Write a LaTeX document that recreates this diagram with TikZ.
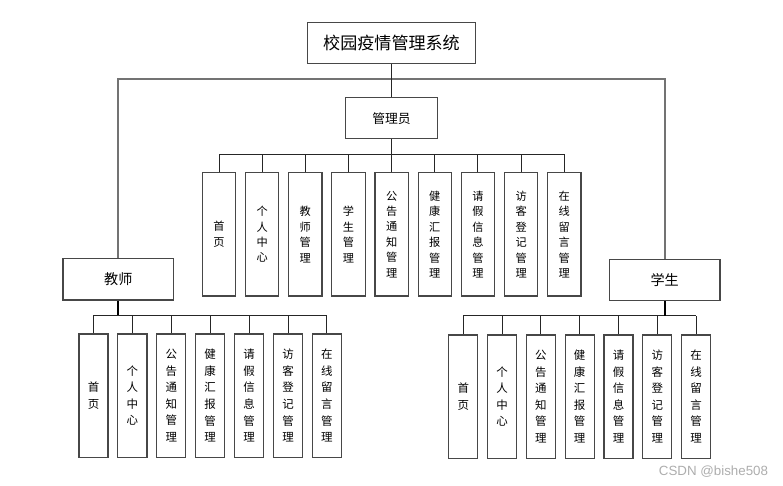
\documentclass[tikz,border=0pt]{standalone}
\usepackage{fontspec}
\setmainfont{Noto Sans CJK SC}
\newfontfamily\wmfont{Liberation Sans}
\begin{document}
\begin{tikzpicture}[x=0.75pt,y=-0.75pt,
  box/.style={draw=black!72,line width=0.9pt,fill=white,inner sep=0pt,align=center},
  rootbox/.style={box,minimum width=126pt,minimum height=30.8pt,font=\fontsize{12.8pt}{15pt}\selectfont},
  rolebox/.style={box,minimum width=83pt,minimum height=31.3pt,font=\fontsize{10.6pt}{13pt}\selectfont},
  adminbox/.style={box,minimum width=69.5pt,minimum height=30.8pt,font=\fontsize{9.6pt}{12pt}\selectfont},
  achild/.style={box,minimum width=25pt,minimum height=92.5pt,font=\fontsize{8.4pt}{11.6pt}\selectfont},
  tchild/.style={box,minimum width=21.8pt,minimum height=92.5pt,font=\fontsize{8.6pt}{12.4pt}\selectfont},
  link/.style={draw=black!85,line width=0.7pt},
  thicklink/.style={draw=black,line width=1.5pt},
  mainbus/.style={draw=black!55,line width=1.5pt}
]
\useasboundingbox (0,0) rectangle (783,486);

% top level
\node[rootbox] (root) at (391.5,42.8) {校园疫情管理系统};
\node[adminbox] (admin) at (391.5,118.3) {管理员};
\node[rolebox] (teacher) at (118.3,279.2) {教师};
\node[rolebox] (student) at (664.7,280) {学生};

\coordinate (mb) at (391.5,79);
\coordinate (ab) at (391.5,154.3);
\coordinate (tb) at (118.3,315);
\coordinate (sb) at (664.7,315.7);

% admin children
\foreach \i/\t in {0/{首\\页},1/{个\\人\\中\\心},2/{教\\师\\管\\理},3/{学\\生\\管\\理},4/{公\\告\\通\\知\\管\\理},5/{健\\康\\汇\\报\\管\\理},6/{请\\假\\信\\息\\管\\理},7/{访\\客\\登\\记\\管\\理},8/{在\\线\\留\\言\\管\\理}}{
  \node[achild] (a\i) at ({219+43.16*\i},234.4) {\t};
}
% teacher children
\foreach \i/\t in {0/{首\\页},1/{个\\人\\中\\心},2/{公\\告\\通\\知\\管\\理},3/{健\\康\\汇\\报\\管\\理},4/{请\\假\\信\\息\\管\\理},5/{访\\客\\登\\记\\管\\理},6/{在\\线\\留\\言\\管\\理}}{
  \node[tchild] (t\i) at ({93.5+38.9*\i},395.7) {\t};
}
% student children
\foreach \i/\t in {0/{首\\页},1/{个\\人\\中\\心},2/{公\\告\\通\\知\\管\\理},3/{健\\康\\汇\\报\\管\\理},4/{请\\假\\信\\息\\管\\理},5/{访\\客\\登\\记\\管\\理},6/{在\\线\\留\\言\\管\\理}}{
  \node[tchild] (s\i) at ({463.3+38.8*\i},396.6) {\t};
}

% main bus
\draw[mainbus] (teacher.north) -- (teacher.north |- mb) -- (student.north |- mb) -- (student.north);
\draw[link] (root.south) -- (admin.north);

% admin bus
\draw[link] (a0.north |- ab) -- (a8.north |- ab);
\draw[link] (admin.south) -- (admin.south |- ab);
\foreach \i in {0,...,8}{\draw[link] (a\i.north) -- (a\i.north |- ab);}

% teacher bus
\draw[link] (t0.north |- tb) -- (t6.north |- tb);
\draw[thicklink] (teacher.south) -- (tb);
\foreach \i in {0,...,6}{\draw[link] (t\i.north) -- (t\i.north |- tb);}

% student bus
\draw[link] (s0.north |- sb) -- (s6.north |- sb);
\draw[thicklink] (student.south) -- (sb);
\foreach \i in {0,...,6}{\draw[link] (s\i.north) -- (s\i.north |- sb);}

% watermark
\node[font=\wmfont\fontsize{10pt}{12pt}\selectfont,text=black!32,inner sep=0pt] (wm) at (713.5,471.5) {CSDN @bishe508};
\end{tikzpicture}
\end{document}
